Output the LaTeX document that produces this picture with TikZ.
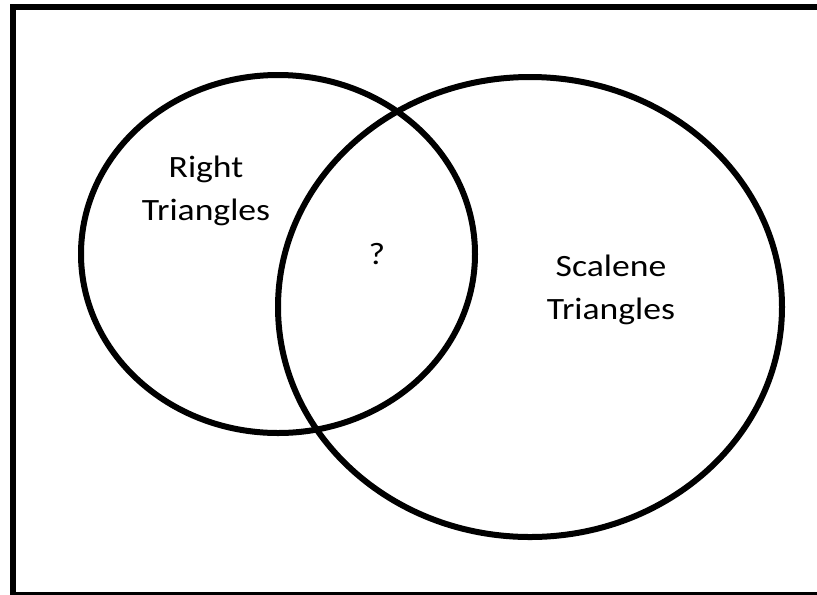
\documentclass[tikz,border=0pt]{standalone}
\usepackage{fontspec}
\setmainfont{Carlito}[FakeStretch=1.15]
\usetikzlibrary{positioning}

\begin{document}
\begin{tikzpicture}[
    x=0.75pt, y=-0.75pt,
    setline/.style={draw=black, line width=4.5pt},
    lbl/.style={inner sep=0pt, align=center, font=\fontsize{23.25}{32.25}\selectfont}
]
    \useasboundingbox (0,0) rectangle (817,594);

    % Universal set frame
    \draw[setline] (13,7) rectangle (822,595);

    % Right triangles
    \draw[setline] (278,254) ellipse [x radius=197, y radius=179];

    % Scalene triangles
    \draw[setline] (530,307) ellipse [x radius=252, y radius=230];

    % Labels
    \node[lbl] (right) at (206,191) {Right\\Triangles};
    \node[lbl] (scal) at (611,290) {Scalene\\Triangles};
    \node[lbl] (both) at (377,254) {?};
\end{tikzpicture}
\end{document}
